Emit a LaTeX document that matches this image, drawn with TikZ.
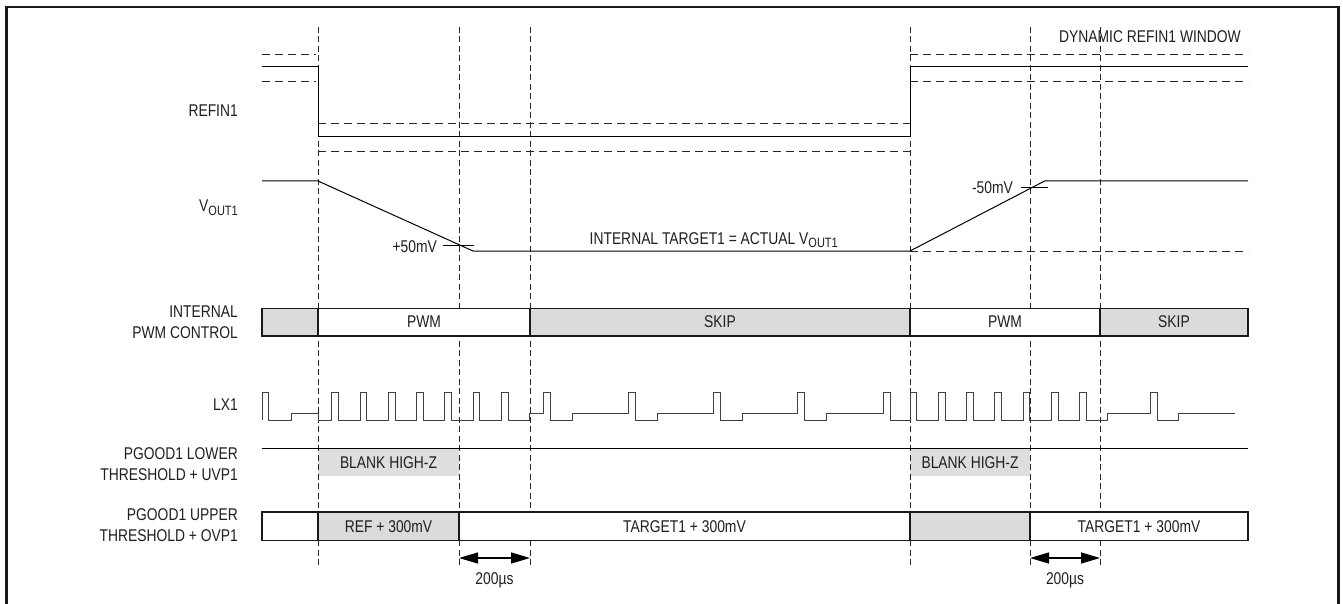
\documentclass[tikz,border=0pt]{standalone}
\usepackage{fontspec}
\setmainfont[FakeStretch=0.815]{Liberation Sans}
\usetikzlibrary{arrows.meta}
\begin{document}
\begin{tikzpicture}[x=1pt,y=-1pt,
  lbl/.style={inner sep=0pt,font=\fontsize{17}{21}\selectfont,text=black!88},
  vdash/.style={line width=0.8pt,dash pattern=on 6pt off 3.5pt,black!85},
  hdash/.style={line width=0.9pt,dash pattern=on 8pt off 5pt,black!85},
  wave/.style={line width=1.0pt,black},
  lxwave/.style={line width=1.0pt,black!75},
  barbox/.style={line width=1.4pt,draw=black!90},
  shade/.style={fill=black!14},
  dimarrow/.style={line width=1.3pt,{Triangle[length=19pt,width=11pt]}-{Triangle[length=19pt,width=11pt]}}
]
\useasboundingbox (0,0) rectangle (1343,604);
% frame
\draw[line width=2.2pt,black!90] (6.5,620) -- (6.5,7) -- (1338.5,7) -- (1338.5,620);

% blank high-z boxes
\fill[black!13] (318,448) rectangle (459,476);
\fill[black!13] (910,448) rectangle (1030,476);

% vertical dashed time markers
\foreach \x/\n in {318/t1,459/t2,530/t3,910/t4,1030/t5,1100/t6}{
  \coordinate (\n top) at (\x,27);
  \coordinate (\n bot) at (\x,567);
  \draw[vdash] (\n top) -- (\n bot);
}

% REFIN1
\draw[hdash] (262,54) -- (316,54);
\draw[hdash] (262,81) -- (316,81);
\draw[hdash] (318,123) -- (910,123);
\draw[hdash] (318,151) -- (910,151);
\draw[hdash] (910,54) -- (1248,54);
\draw[hdash] (910,81) -- (1248,81);
\draw[wave] (262,67) -- (318,67) -- (318,137) -- (910,137) -- (910,67) -- (1248,67);

% VOUT1
\draw[hdash] (910,251) -- (1248,251);
\draw[wave] (262,181) -- (318,181) -- (473,251) -- (910,251) -- (1044.6,181) -- (1248,181);
\draw[line width=0.9pt] (443,245) -- (474,245);
\draw[line width=0.9pt] (1021,187.5) -- (1048,187.5);

% internal PWM control bar
\draw[barbox,shade] (262,308.5) rectangle (318,336);
\draw[barbox,fill=white] (318,308.5) rectangle (530,336);
\draw[barbox,shade] (530,308.5) rectangle (910,336);
\draw[barbox,fill=white] (910,308.5) rectangle (1100,336);
\draw[barbox,shade] (1100,308.5) rectangle (1248,336);

% LX1
\draw[lxwave] (262,420) -- (262,392) -- (268.5,392) -- (268.5,420) -- (291,420) -- (291,413) -- (318,413) -- (318,420)
  \foreach \p in {331.7,360.0,388.3,416.6,444.9,473.2,501.5}{ -- (\p,420) -- (\p,392) -- ++(6.7,0) -- ++(0,28) }
  -- (529.5,420) -- (529.5,413)
  \foreach \p in {543.3,628.3,713.3,797.7}{ -- (\p,413) -- (\p,392) -- ++(7,0) -- ++(0,28) -- ++(21.7,0) -- ++(0,-7) }
  -- (883.3,413) -- (883.3,392) -- (890.3,392) -- (890.3,420)
  \foreach \p in {910.0,938.3,966.6,994.9,1023.2,1051.5,1079.8}{ -- (\p,420) -- (\p,392) -- ++(6.7,0) -- ++(0,28) }
  -- (1107,420) -- (1107,413) -- (1150.7,413) -- (1150.7,392) -- (1157.5,392) -- (1157.5,420) -- (1178,420) -- (1178,413) -- (1235,413);

% PGOOD1 lower
\draw[wave] (262,448) -- (1248,448);

% PGOOD1 upper bar
\draw[barbox,fill=white] (262,512) rectangle (318,540.5);
\draw[barbox,shade] (318,512) rectangle (459,540.5);
\draw[barbox,fill=white] (459,512) rectangle (910,540.5);
\draw[barbox,shade] (910,512) rectangle (1030,540.5);
\draw[barbox,fill=white] (1030,512) rectangle (1248,540.5);

% 200us arrows
\coordinate (a1l) at (459,558);
\coordinate (a1r) at (530,558);
\coordinate (a2l) at (1030,558);
\coordinate (a2r) at (1100,558);
\draw[dimarrow] (a1l) -- (a1r);
\draw[dimarrow] (a2l) -- (a2r);
\node[lbl] (us1) at (494.5,580) {200µs};
\node[lbl] (us2) at (1065,580) {200µs};

% left labels
\node[lbl,anchor=east] (lrefin) at (238,111) {REFIN1};
\node[lbl,anchor=east] (lvout) at (238,208) {V\raisebox{-0.22em}{\fontsize{13.5}{14}\selectfont OUT1}};
\node[lbl,anchor=east,align=right] (lpwm) at (238,322) {INTERNAL\\PWM CONTROL};
\node[lbl,anchor=east] (llx) at (238,405) {LX1};
\node[lbl,anchor=east,align=right] (llow) at (238,464.5) {PGOOD1 LOWER\\THRESHOLD + UVP1};
\node[lbl,anchor=east,align=right] (lup) at (238,525) {PGOOD1 UPPER\\THRESHOLD + OVP1};

% in-diagram labels
\node[lbl,anchor=east] (ldyn) at (1241,37) {DYNAMIC REFIN1 WINDOW};
\node[lbl,anchor=east] (lp50) at (437,247) {+50mV};
\node[lbl,anchor=east] (lm50) at (1013,188) {-50mV};
\node[lbl,anchor=east] (ltgt) at (838,240) {INTERNAL TARGET1 = ACTUAL V\raisebox{-0.22em}{\fontsize{13.5}{14}\selectfont OUT1}};
\node[lbl] (pwm1) at (424,322) {PWM};
\node[lbl] (skip1) at (720,322) {SKIP};
\node[lbl] (pwm2) at (1005,322) {PWM};
\node[lbl] (skip2) at (1174,322) {SKIP};
\node[lbl] (blank1) at (388.5,463) {BLANK HIGH-Z};
\node[lbl] (blank2) at (970,463) {BLANK HIGH-Z};
\node[lbl] (ref300) at (388.5,526.5) {REF + 300mV};
\node[lbl] (tgt300a) at (684.5,526.5) {TARGET1 + 300mV};
\node[lbl] (tgt300b) at (1139,526.5) {TARGET1 + 300mV};
\end{tikzpicture}
\end{document}
